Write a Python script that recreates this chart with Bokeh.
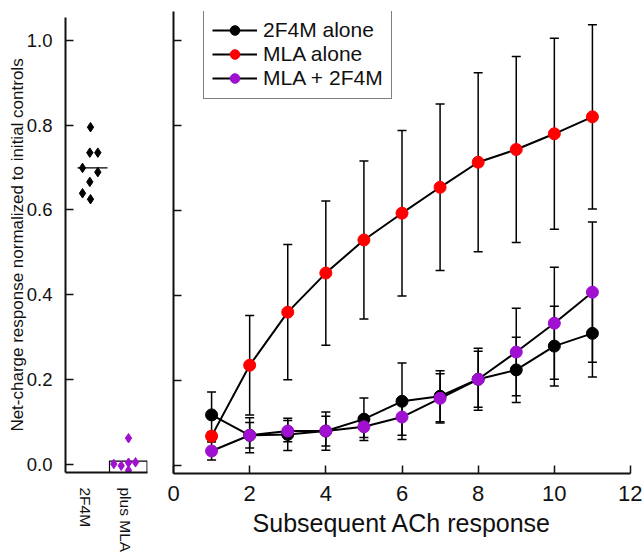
from bokeh.plotting import figure
from bokeh.layouts import row, column
from bokeh.models import (Range1d, Whisker, TeeHead, ColumnDataSource, Legend,
                          LegendItem, FixedTicker, PrintfTickFormatter)
from bokeh.embed import file_html
from bokeh.resources import INLINE

FONT = "Liberation Sans"

# ---------------- data ----------------
# left panel: single responses (normalized)
cat_labels = ["2F4M", "plus MLA"]
f2_vals = [0.795, 0.735, 0.735, 0.699, 0.689, 0.666, 0.639, 0.625]
f2_xpos = [1.125, 1.108, 1.308, 0.925, 1.308, 1.108, 0.925, 1.125]
mla_vals = [0.061, 0.000, -0.004, 0.003, 0.004, -0.015]
mla_xpos = [2.075, 1.708, 1.893, 2.075, 2.25, 2.075]
f2_mean = 0.699
mla_mean = 0.007

# right panel: subsequent ACh responses
resp = [1, 2, 3, 4, 5, 6, 7, 8, 9, 10, 11]
alone_2f4m = [0.118, 0.070, 0.072, 0.080, 0.108, 0.150, 0.162, 0.202, 0.224, 0.280, 0.310]
alone_2f4m_sem = [0.054, 0.041, 0.038, 0.045, 0.050, 0.090, 0.060, 0.073, 0.077, 0.094, 0.103]
mla_alone = [0.068, 0.235, 0.360, 0.452, 0.530, 0.593, 0.654, 0.713, 0.743, 0.780, 0.820]
mla_alone_sem = [0.010, 0.117, 0.159, 0.170, 0.186, 0.195, 0.196, 0.211, 0.219, 0.225, 0.217]
mla_2f4m = [0.033, 0.070, 0.080, 0.080, 0.090, 0.113, 0.157, 0.202, 0.266, 0.334, 0.407]
mla_2f4m_sem = [0.021, 0.030, 0.025, 0.035, 0.025, 0.043, 0.058, 0.066, 0.103, 0.132, 0.165]

series_names = ["2F4M alone", "MLA alone", "MLA + 2F4M"]
series_colors = ["#000000", "#ff0000", "#a010d0"]
y_ticks = [0.0, 0.2, 0.4, 0.6, 0.8, 1.0]
x_ticks = [0, 2, 4, 6, 8, 10, 12]

Y0 = -0.020


def style_axis(ax):
    ax.axis_line_width = 2
    ax.axis_line_color = "#111111"
    ax.major_tick_line_width = 1.5
    ax.major_tick_line_color = "#111111"
    ax.major_tick_in = 8
    ax.major_tick_out = 0
    ax.minor_tick_in = 0
    ax.minor_tick_out = 0
    ax.major_label_text_font = FONT
    ax.major_label_text_color = "#111111"
    ax.axis_label_text_font = FONT
    ax.axis_label_text_font_style = "normal"
    ax.axis_label_text_color = "#111111"


# ---------------- left panel ----------------
pl = figure(width=158, height=555, x_range=Range1d(0.5, 2.55),
            y_range=Range1d(Y0, 1.054), output_backend="svg",
            toolbar_location=None, min_border_left=65, min_border_right=11,
            min_border_top=17, min_border_bottom=82)
pl.outline_line_color = None
pl.grid.visible = False
style_axis(pl.yaxis[0])
pl.yaxis.ticker = FixedTicker(ticks=y_ticks)
pl.yaxis.formatter = PrintfTickFormatter(format="%.1f")
pl.yaxis.major_label_text_font_size = "18.5px"
pl.yaxis.major_label_standoff = 13
pl.yaxis.axis_label = "Net-charge response normalized to initial controls"
pl.yaxis.axis_label_text_font_size = "17px"
pl.yaxis.axis_label_standoff = -3
style_axis(pl.xaxis[0])
pl.xaxis.ticker = FixedTicker(ticks=[1, 2])
pl.xaxis.major_label_overrides = {1: cat_labels[0], 2: cat_labels[1]}
pl.xaxis.major_label_orientation = "vertical"
pl.xaxis.major_label_text_font_size = "15.5px"
pl.xaxis.major_tick_in = 0
pl.xaxis.major_label_standoff = 15

pl.segment(x0=[0.8], y0=[f2_mean], x1=[1.55], y1=[f2_mean], line_color="black", line_width=1.2)
pl.multi_line(xs=[[1.6, 1.6, 2.54, 2.54]], ys=[[Y0, mla_mean, mla_mean, Y0]],
              line_color="black", line_width=1.2)
pl.scatter(f2_xpos, f2_vals, marker="diamond", size=9.5, fill_color="black", line_color="black")
pl.scatter(mla_xpos, mla_vals, marker="diamond", size=9.5, fill_color=series_colors[2],
           line_color=series_colors[2])

# ---------------- right panel ----------------
pr = figure(width=484, height=555, x_range=Range1d(0, 12),
            y_range=Range1d(Y0, 1.068), output_backend="svg",
            toolbar_location=None, min_border_left=15, min_border_right=12,
            min_border_top=11, min_border_bottom=82)
pr.outline_line_color = None
pr.grid.visible = False
style_axis(pr.yaxis[0])
pr.yaxis.ticker = FixedTicker(ticks=y_ticks)
pr.yaxis.major_label_text_color = None
pr.yaxis.major_label_standoff = 0
style_axis(pr.xaxis[0])
pr.xaxis.ticker = FixedTicker(ticks=x_ticks)
pr.xaxis.major_label_text_font_size = "22px"
pr.xaxis.major_label_standoff = 12
pr.xaxis.axis_label = "Subsequent ACh response"
pr.xaxis.axis_label_text_font_size = "25px"
pr.xaxis.axis_label_standoff = 5

means = [alone_2f4m, mla_alone, mla_2f4m]
sems = [alone_2f4m_sem, mla_alone_sem, mla_2f4m_sem]
line_rs = []
for m, s in zip(means, sems):
    src = ColumnDataSource(dict(x=resp, y=m,
                                upper=[a + b for a, b in zip(m, s)],
                                lower=[a - b for a, b in zip(m, s)]))
    w = Whisker(source=src, base="x", upper="upper", lower="lower",
                line_color="black", line_width=1.5,
                upper_head=TeeHead(size=9, line_width=1.5, line_color="black"),
                lower_head=TeeHead(size=9, line_width=1.5, line_color="black"))
    pr.add_layout(w)
    line_rs.append(pr.line("x", "y", source=src, line_color="black", line_width=2))

mark_rs = []
for m, c in zip(means, series_colors):
    mark_rs.append(pr.scatter(resp, m, marker="circle", size=12, fill_color=c, line_color=c))

legend = Legend(items=[LegendItem(label=n, renderers=[lr, mr])
                       for n, lr, mr in zip(series_names, line_rs, mark_rs)],
                location=(30, 374))
legend.label_text_font = FONT
legend.label_text_font_size = "21px"
legend.label_text_color = "#111111"
legend.border_line_color = "black"
legend.border_line_width = 1.5
legend.padding = 8
legend.spacing = 0
legend.margin = 0
legend.label_height = 24
legend.glyph_height = 24
legend.glyph_width = 45
legend.label_standoff = 6
pr.add_layout(legend, "center")

layout = row(column(pl), column(pr))
open("out.html", "w").write(file_html(layout, INLINE))
